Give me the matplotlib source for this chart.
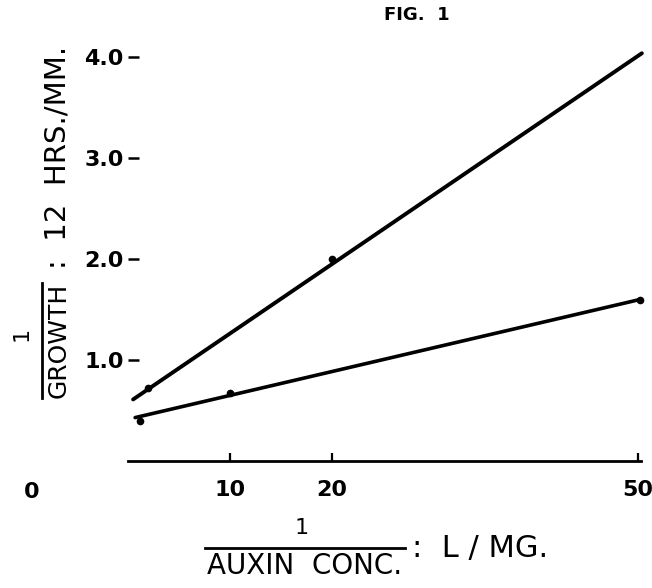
import numpy as np
import matplotlib.pyplot as plt
from matplotlib.lines import Line2D

# fitted lines (1/auxin conc. vs 1/growth)
upper_x = [0.5, 50.4]
upper_y = [0.61, 4.04]
lower_x = [0.7, 50.2]
lower_y = [0.43, 1.60]

# visible data points
upper_pts_x = [2, 20]
upper_pts_y = [0.72, 2.0]
lower_pts_x = [1.2, 10, 50.2]
lower_pts_y = [0.40, 0.67, 1.60]

xticks = [10, 20, 50]
yticks = [1.0, 2.0, 3.0, 4.0]
ytick_labels = ['1.0', '2.0', '3.0', '4.0']

W, H = 652, 588
fig = plt.figure(figsize=(W / 100, H / 100), dpi=100)
plt.rcParams['font.family'] = 'DejaVu Sans'

def fx(x):
    return x / W

def fy(y):
    return 1 - y / H

ax = fig.add_axes([fx(128), fy(461), fx(648) - fx(128), fy(27) - fy(461)])
ax.set_xlim(0, 51)
ax.set_ylim(0, 4.3)

ax.plot(upper_x, upper_y, color='black', lw=2.8, solid_capstyle='round')
ax.plot(lower_x, lower_y, color='black', lw=2.6, solid_capstyle='round')
ax.plot(upper_pts_x, upper_pts_y, 'o', color='black', ms=4.5)
ax.plot(lower_pts_x, lower_pts_y, 'o', color='black', ms=4.5)

for s in ['top', 'right', 'left']:
    ax.spines[s].set_visible(False)
ax.spines['bottom'].set_linewidth(2.0)
ax.spines['bottom'].set_bounds(0, 50.3)

ax.set_xticks(xticks)
ax.set_xticklabels([str(t) for t in xticks], fontsize=16, fontweight='bold')
ax.tick_params(axis='x', direction='in', length=6, width=1.6, pad=14)
ax.set_yticks(yticks)
ax.set_yticklabels(ytick_labels, fontsize=16, fontweight='bold')
ax.tick_params(axis='y', direction='in', length=8, width=1.8, pad=3)
ax.yaxis.set_ticks_position('left')

# stray "0" label far left of origin, as in the original
fig.text(fx(32), fy(492), '0', fontsize=16, fontweight='bold',
         ha='center', va='center')

# title
fig.text(fx(417), fy(15), 'FIG.  1', fontsize=13, fontweight='bold',
         ha='center', va='center')

# y label: 1 / GROWTH : 12 HRS./MM.
fig.text(fx(22), fy(334), '1', fontsize=16, rotation=90,
         ha='center', va='center')
fig.add_artist(Line2D([fx(42), fx(42)], [fy(398), fy(283)], color='black',
                      lw=2))
fig.text(fx(59), fy(340), 'GROWTH', fontsize=18, rotation=90,
         ha='center', va='center')
fig.text(fx(58), fy(157), ':  12  HRS./MM.', fontsize=21, rotation=90,
         ha='center', va='center')

# x label: 1 / AUXIN CONC. : L/MG.
fig.text(fx(302), fy(528), '1', fontsize=16, ha='center', va='center')
fig.add_artist(Line2D([fx(205), fx(405)], [fy(548), fy(548)], color='black',
                      lw=2))
fig.text(fx(305), fy(566), 'AUXIN  CONC.', fontsize=20, ha='center',
         va='center')
fig.text(fx(412), fy(548), ':  L / MG.', fontsize=22, ha='left',
         va='center')

fig.savefig('out.png', dpi=100)
